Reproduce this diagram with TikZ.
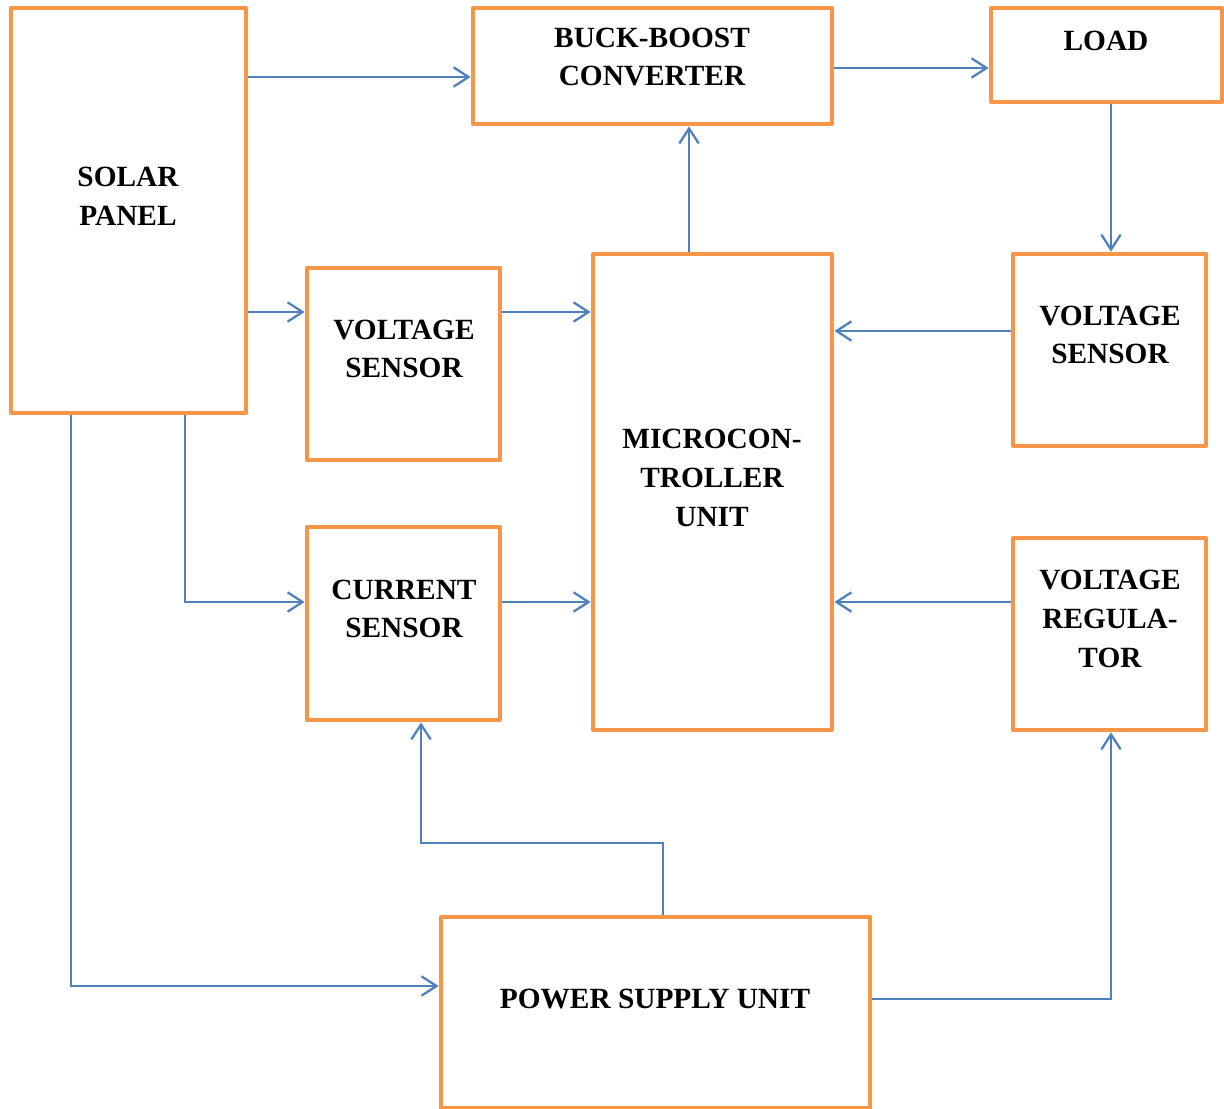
\documentclass[tikz,border=0pt]{standalone}
\usepackage{fontspec}
\setmainfont{Liberation Serif}
\usepackage{xcolor}
\usetikzlibrary{arrows.meta,fit}
\definecolor{boxorange}{RGB}{247,150,70}
\definecolor{lineblue}{RGB}{79,129,189}

\begin{document}
\begin{tikzpicture}[x=0.02cm,y=-0.02cm,
  box/.style={draw=boxorange, line width=2.7pt, inner sep=0pt, line join=round},
  lbl/.style={align=center, inner sep=0pt, font=\fontsize{16.7}{22}\selectfont\bfseries},
  wire/.style={draw=lineblue, line width=1.3pt},
  arr/.style={wire, -{Straight Barb[length=8.5pt,width=11pt,line width=1.3pt]}}]
\useasboundingbox (0,0) rectangle (1224,1109);

% blocks
\node[box, fit={(11,8) (246,413)}] (solar) {};
\node[box, fit={(473,8) (832,124)}] (buck) {};
\node[box, fit={(991,8) (1222,102)}] (load) {};
\node[box, fit={(307,268) (500,460)}] (vsL) {};
\node[box, fit={(307,527) (500,720)}] (cur) {};
\node[box, fit={(593,254) (832,730)}] (mcu) {};
\node[box, fit={(1013,254) (1206,446)}] (vsR) {};
\node[box, fit={(1013,538) (1206,730)}] (reg) {};
\node[box, fit={(441,917) (870,1108)}] (psu) {};

% labels
\node[lbl] (solarT) at (128,196) {SOLAR\\PANEL};
\node[lbl] (buckT) at (652,57) {BUCK-BOOST\\CONVERTER};
\node[lbl] (loadT) at (1106,41) {LOAD};
\node[lbl] (vsLT) at (404,349) {VOLTAGE\\SENSOR};
\node[lbl] (curT) at (404,609) {CURRENT\\SENSOR};
\node[lbl] (mcuT) at (712,478) {MICROCON-\\TROLLER\\UNIT};
\node[lbl] (vsRT) at (1110,335) {VOLTAGE\\SENSOR};
\node[lbl] (regT) at (1110,619) {VOLTAGE\\REGULA-\\TOR};
\node[lbl] (psuT) at (655,999) {POWER SUPPLY UNIT};

% connections
\draw[arr] (solar.east |- 0,77) -- (buck.west |- 0,77);
\draw[arr] (buck.east |- 0,68) -- (load.west |- 0,68);
\draw[arr] (load.south -| 1111,0) -- (vsR.north -| 1111,0);
\draw[arr] (solar.east |- 0,312) -- (vsL.west |- 0,312);
\draw[arr] (vsL.east |- 0,312) -- (mcu.west |- 0,312);
\draw[arr] (mcu.north -| 689,0) -- (buck.south -| 689,0);
\draw[arr] (vsR.west |- 0,331) -- (mcu.east |- 0,331);
\draw[arr] (solar.south -| 185,0) |- (cur.west |- 0,602);
\draw[arr] (cur.east |- 0,602) -- (mcu.west |- 0,602);
\draw[arr] (reg.west |- 0,602) -- (mcu.east |- 0,602);
\draw[arr] (solar.south -| 71,0) |- (psu.west |- 0,986);
\coordinate (psuturn) at (663,843);
\draw[arr] (psu.north -| 663,0) -- (psuturn) -| (cur.south -| 421,0);
\draw[arr] (psu.east |- 0,999) -| (reg.south -| 1111,0);
\end{tikzpicture}
\end{document}
